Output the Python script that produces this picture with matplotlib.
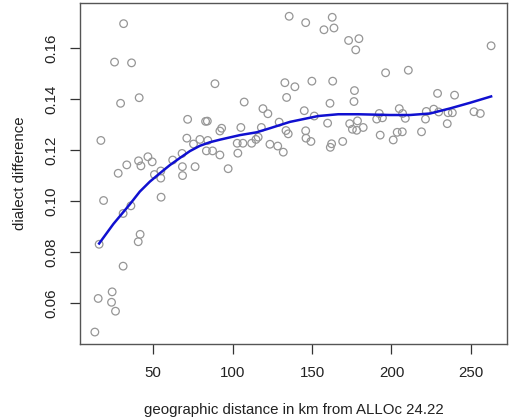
import numpy as np
import matplotlib
matplotlib.use("Agg")
import matplotlib.pyplot as plt

plt.rcParams['font.family'] = ['Liberation Sans', 'DejaVu Sans']

# geographic distance (km) and dialect difference
dist = [13.3, 16.0, 18.8, 15.4, 24.2, 23.8, 26.3, 31.1, 40.6, 41.8,
        36.0, 31.1, 55.0, 31.4, 25.7, 36.4, 88.9, 29.5, 41.2, 17.1,
        71.7, 83.0, 84.1, 71.2, 79.4, 75.4, 84.4, 83.5, 87.4, 92.0,
        93.1, 92.0, 46.7, 40.8, 49.4, 42.3, 33.4, 28.0, 62.3, 68.2,
        68.4, 76.4, 68.5, 50.8, 54.8, 54.8, 107.3, 119.1, 122.2, 134.0,
        105.2, 118.1, 129.3, 133.6, 135.0, 116.1, 114.7, 102.9, 106.5, 112.0,
        123.5, 128.4, 131.9, 103.3, 97.2, 135.6, 146.0, 162.7, 157.5, 163.8,
        173.0, 179.5, 177.5, 132.9, 139.2, 149.9, 163.0, 176.7, 176.4, 161.3,
        145.1, 151.4, 159.8, 173.7, 178.6, 175.4, 178.1, 182.2, 146.0, 146.2,
        149.3, 162.3, 161.5, 169.3, 192.3, 190.7, 194.3, 192.9, 201.1, 262.7,
        196.3, 210.6, 229.0, 239.7, 204.9, 207.0, 208.7, 221.9, 226.6, 229.7,
        235.6, 238.3, 251.9, 255.9, 221.4, 235.1, 203.6, 206.8, 218.9]
diff = [0.0485, 0.0830, 0.1002, 0.0617, 0.0643, 0.0602, 0.0567, 0.0744, 0.0840, 0.0869,
        0.0981, 0.0951, 0.1015, 0.1697, 0.1546, 0.1543, 0.1461, 0.1384, 0.1406, 0.1238,
        0.1321, 0.1313, 0.1314, 0.1247, 0.1242, 0.1224, 0.1238, 0.1197, 0.1197, 0.1275,
        0.1286, 0.1181, 0.1174, 0.1158, 0.1154, 0.1138, 0.1142, 0.1109, 0.1161, 0.1187,
        0.1135, 0.1135, 0.1100, 0.1104, 0.1118, 0.1090, 0.1389, 0.1363, 0.1343, 0.1407,
        0.1289, 0.1289, 0.1310, 0.1277, 0.1264, 0.1251, 0.1242, 0.1227, 0.1227, 0.1227,
        0.1223, 0.1216, 0.1192, 0.1188, 0.1127, 0.1726, 0.1701, 0.1722, 0.1673, 0.1680,
        0.1631, 0.1638, 0.1594, 0.1465, 0.1449, 0.1471, 0.1471, 0.1434, 0.1391, 0.1384,
        0.1355, 0.1334, 0.1306, 0.1304, 0.1315, 0.1282, 0.1278, 0.1289, 0.1276, 0.1247,
        0.1234, 0.1225, 0.1211, 0.1234, 0.1344, 0.1322, 0.1327, 0.1259, 0.1240, 0.1610,
        0.1504, 0.1514, 0.1423, 0.1416, 0.1363, 0.1344, 0.1325, 0.1352, 0.1361, 0.1350,
        0.1347, 0.1347, 0.1351, 0.1344, 0.1322, 0.1304, 0.1270, 0.1272, 0.1272]

# smoothed trend line (loess)
fit_x = [16.0, 25.0, 35.3, 41.6, 47.9, 54.2, 60.5, 66.8, 73.1, 79.4, 85.7, 92.0,
         104.6, 115.1, 123.5, 136.1, 153.9, 166.5, 179.1, 199.1, 211.6, 224.3,
         236.9, 249.4, 262.7]
fit_y = [0.0833, 0.0910, 0.0987, 0.1037, 0.1076, 0.1109, 0.1141, 0.1169, 0.1196, 0.1217,
         0.1231, 0.1241, 0.1259, 0.1270, 0.1286, 0.1311, 0.1334, 0.1341, 0.1341, 0.1338,
         0.1338, 0.1344, 0.1364, 0.1386, 0.1411]

fig = plt.figure(figsize=(5.12, 4.18), dpi=100)
ax = fig.add_axes([0.157, 0.177, 0.8326, 0.8157])

ax.scatter(dist, diff, s=30, facecolors='none', edgecolors='#969696', linewidths=0.9)
ax.plot(fit_x, fit_y, color='#1010d0', lw=1.8)

ax.set_xlim(4.2, 272.5)
ax.set_ylim(0.0438, 0.1778)
ax.set_xticks([50, 100, 150, 200, 250])
ax.set_yticks([0.06, 0.08, 0.10, 0.12, 0.14, 0.16])
ax.set_yticklabels(['0.06', '0.08', '0.10', '0.12', '0.14', '0.16'],
                   rotation=90, va='center')
ax.tick_params(length=7.5, width=0.9, labelsize=10.8, pad=8, colors='#333333',
               labelcolor='#222222')
for s in ax.spines.values():
    s.set_color('#555555')
    s.set_linewidth(1.0)

ax.set_xlabel('geographic distance in km from ALLOc 24.22', fontsize=10.8,
              color='#222222', labelpad=17)
ax.set_ylabel('dialect difference', fontsize=10.8, color='#222222', labelpad=13)

fig.savefig('out.png', dpi=100)
